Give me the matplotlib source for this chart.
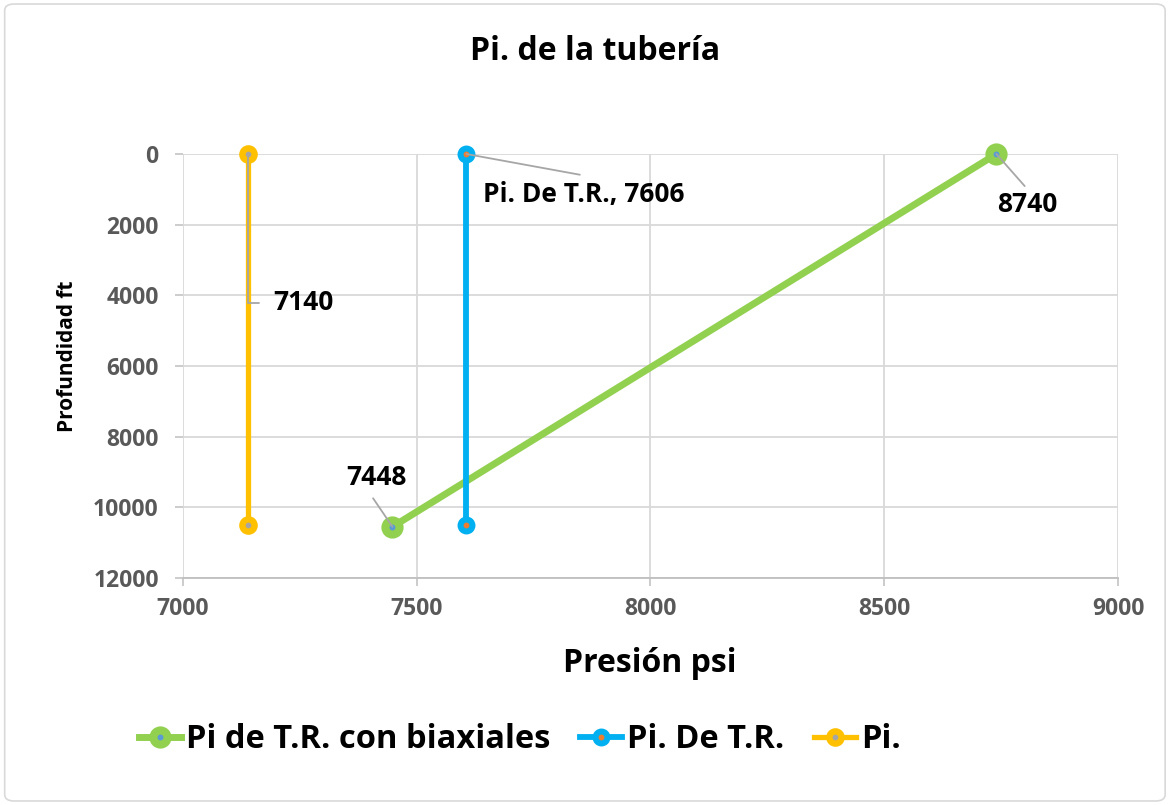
import matplotlib.pyplot as plt
from matplotlib.patches import FancyBboxPatch

plt.rcParams['font.family'] = ['Open Sans', 'DejaVu Sans']
plt.rcParams['font.weight'] = 'bold'

# data
x_biax = [7448, 8740]
y_biax = [10550, 0]
x_tr = [7606, 7606]
y_tr = [0, 10500]
x_pi = [7140, 7140]
y_pi = [0, 10500]
names = ["Pi de T.R. con biaxiales", "Pi. De T.R.", "Pi."]
xticks = [7000, 7500, 8000, 8500, 9000]
yticks = [0, 2000, 4000, 6000, 8000, 10000, 12000]

fig = plt.figure(figsize=(11.71, 8.05), dpi=100)
ax = fig.add_axes([0.1563, 0.282, 0.7984, 0.5267])

ax.plot(x_biax, y_biax, color="#92D050", lw=5, marker="o", ms=10.2,
        mfc="#5B9BD5", mec="#92D050", mew=5.8, label=names[0], zorder=3,
        clip_on=False)
ax.plot(x_tr, y_tr, color="#00B0F0", lw=4.2, marker="o", ms=8.6,
        mfc="#ED7D31", mec="#00B0F0", mew=4.3, label=names[1], zorder=3,
        clip_on=False)
ax.plot(x_pi, y_pi, color="#FFC000", lw=3.8, marker="o", ms=8.8,
        mfc="#A5A5A5", mec="#FFC000", mew=4.6, label=names[2], zorder=3,
        clip_on=False)

ax.set_xlim(7000, 9000)
ax.set_ylim(12000, 0)
ax.set_xticks(xticks)
ax.set_yticks(yticks)
ax.grid(True, color="#D9D9D9", lw=1.3)
ax.set_axisbelow(True)
for s in ax.spines.values():
    s.set_visible(False)
ax.spines["bottom"].set_visible(True)
ax.spines["bottom"].set_color("#BFBFBF")
ax.spines["bottom"].set_linewidth(1.3)
ax.tick_params(length=5.5, width=1.3, color="#C8C8C8", labelsize=16.5,
               labelcolor="#595959")
ax.tick_params(axis="x", pad=8)
ax.tick_params(axis="y", pad=12)
for lab in ax.get_xticklabels() + ax.get_yticklabels():
    lab.set_fontweight("bold")

lead = dict(arrowstyle="-", color="#A6A6A6", lw=1.3, shrinkA=0, shrinkB=0)
ax.annotate("7140", xy=(x_pi[0], y_pi[0]), xytext=(7192, 4217), fontsize=19,
            fontweight="bold", va="center", ha="left",
            arrowprops=dict(lead, connectionstyle="angle,angleA=0,angleB=90,rad=0",
                            relpos=(0, 0.5), shrinkA=8))
ax.annotate("Pi. De T.R., 7606", xy=(x_tr[0], y_tr[0]), xytext=(7642, 1160),
            fontsize=19, fontweight="bold", va="center", ha="left",
            arrowprops=dict(lead, relpos=(0.48, 1.25)))
ax.annotate("8740", xy=(x_biax[1], y_biax[1]), xytext=(8807, 1443), fontsize=19,
            fontweight="bold", va="center", ha="center",
            arrowprops=dict(lead, relpos=(0.45, 1.2)))
ax.annotate("7448", xy=(x_biax[0], y_biax[0]), xytext=(7413, 9170), fontsize=19,
            fontweight="bold", va="center", ha="center",
            arrowprops=dict(lead, relpos=(0.45, -0.25)))

fig.text(0.508, 0.936, "Pi. de la tubería", fontsize=23, fontweight="bold",
         ha="center", va="center")
fig.text(0.555, 0.176, "Presión psi", fontsize=23, fontweight="bold",
         ha="center", va="center")
fig.text(0.058, 0.558, "Profundidad ft", fontsize=15, fontweight="bold",
         ha="center", va="center", rotation=90)

fig.legend(loc="center", bbox_to_anchor=(0.444, 0.081), ncol=3, frameon=False,
           prop=dict(size=23.5, weight="bold"), handlelength=1.3,
           handletextpad=0.15, columnspacing=0.9, markerscale=1.0)

fig.patches.append(FancyBboxPatch((0.004, 0.005), 0.991, 0.99,
                                  boxstyle="round,pad=0,rounding_size=0.008",
                                  transform=fig.transFigure, fill=False,
                                  ec="#D9D9D9", lw=1.2))

fig.savefig("out.png", dpi=100)
